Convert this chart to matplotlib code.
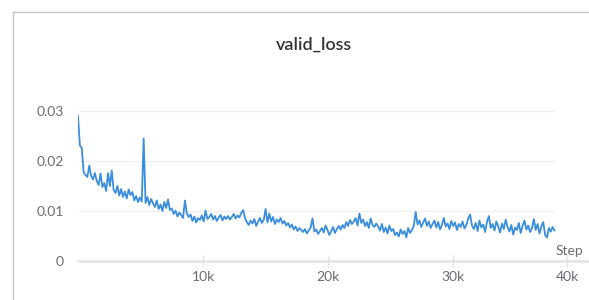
import numpy as np
import matplotlib
matplotlib.use("Agg")
import matplotlib.pyplot as plt
from matplotlib.lines import Line2D

plt.rcParams['font.family'] = ['Lato', 'DejaVu Sans']

# valid_loss logged every 150 steps
step_interval = 150
valid_loss = [
    0.0290, 0.0231, 0.0226, 0.0178, 0.0172, 0.0168, 0.0191, 0.0170, 0.0163, 0.0176,
    0.0160, 0.0152, 0.0175, 0.0148, 0.0156, 0.0140, 0.0176, 0.0150, 0.0181, 0.0142,
    0.0136, 0.0150, 0.0131, 0.0144, 0.0128, 0.0139, 0.0125, 0.0143, 0.0132, 0.0138,
    0.0121, 0.0130, 0.0118, 0.0127, 0.0119, 0.0245, 0.0116, 0.0128, 0.0112, 0.0124,
    0.0115, 0.0108, 0.0121, 0.0104, 0.0113, 0.0100, 0.0118, 0.0106, 0.0123, 0.0102,
    0.0105, 0.0094, 0.0101, 0.0089, 0.0097, 0.0092, 0.0086, 0.0121, 0.0095, 0.0088,
    0.0093, 0.0080, 0.0089, 0.0077, 0.0086, 0.0082, 0.0091, 0.0079, 0.0101, 0.0084,
    0.0088, 0.0094, 0.0083, 0.0090, 0.0080, 0.0087, 0.0092, 0.0081, 0.0089, 0.0084,
    0.0090, 0.0083, 0.0088, 0.0094, 0.0085, 0.0091, 0.0087, 0.0096, 0.0102, 0.0086,
    0.0078, 0.0072, 0.0081, 0.0075, 0.0084, 0.0070, 0.0079, 0.0086, 0.0076, 0.0082,
    0.0104, 0.0077, 0.0095, 0.0079, 0.0088, 0.0074, 0.0083, 0.0078, 0.0086, 0.0075,
    0.0080, 0.0071, 0.0076, 0.0067, 0.0073, 0.0063, 0.0069, 0.0060, 0.0066, 0.0062,
    0.0058, 0.0064, 0.0055, 0.0061, 0.0067, 0.0085, 0.0059, 0.0063, 0.0054, 0.0060,
    0.0066, 0.0057, 0.0071, 0.0062, 0.0052, 0.0060, 0.0068, 0.0056, 0.0064, 0.0070,
    0.0063, 0.0072, 0.0066, 0.0078, 0.0070, 0.0082, 0.0074, 0.0079, 0.0086, 0.0071,
    0.0095, 0.0076, 0.0083, 0.0070, 0.0078, 0.0066, 0.0085, 0.0072, 0.0068, 0.0075,
    0.0069, 0.0061, 0.0074, 0.0058, 0.0067, 0.0055, 0.0071, 0.0060, 0.0064, 0.0052,
    0.0057, 0.0049, 0.0063, 0.0054, 0.0060, 0.0047, 0.0066, 0.0056, 0.0062, 0.0070,
    0.0098, 0.0073, 0.0081, 0.0068, 0.0077, 0.0085, 0.0070, 0.0079, 0.0066, 0.0074,
    0.0081, 0.0067, 0.0078, 0.0063, 0.0072, 0.0086, 0.0069, 0.0075, 0.0064, 0.0080,
    0.0070, 0.0077, 0.0062, 0.0074, 0.0068, 0.0079, 0.0065, 0.0072, 0.0085, 0.0093,
    0.0071, 0.0064, 0.0076, 0.0060, 0.0081, 0.0067, 0.0073, 0.0058, 0.0078, 0.0090,
    0.0066, 0.0074, 0.0061, 0.0079, 0.0069, 0.0057, 0.0075, 0.0064, 0.0083, 0.0068,
    0.0059, 0.0072, 0.0053, 0.0067, 0.0062, 0.0076, 0.0056, 0.0070, 0.0081, 0.0063,
    0.0071, 0.0058, 0.0066, 0.0084, 0.0062, 0.0074, 0.0055, 0.0069, 0.0078, 0.0052,
    0.0047, 0.0066, 0.0059, 0.0068, 0.0061,
]
steps = np.arange(len(valid_loss)) * step_interval

x_ticks = [10000, 20000, 30000, 39100]
x_labels = ['10k', '20k', '30k', '40k']
y_ticks = [0, 0.01, 0.02, 0.03]
y_labels = ['0', '0.01', '0.02', '0.03']

W, H = 589, 300
fig = plt.figure(figsize=(W / 100, H / 100), dpi=100)
ax = fig.add_axes([78 / W, 1 - 261 / H, (567 - 78) / W, (261 - 96) / H])

ax.hlines(y_ticks[1:], 0, steps[-1], color='#f0f0f0', lw=1, zorder=0)
ax.plot(steps, valid_loss, color='#3a8edb', lw=1.3, zorder=3)

ax.set_xlim(0, 39100)
ax.set_ylim(0, 0.033)

for s in ax.spines.values():
    s.set_visible(False)
# baseline runs past the last tick, under the "Step" label
ax.plot([0, (589 - 78) / (567 - 78)], [0, 0], transform=ax.transAxes,
        color='#e3e3e3', lw=1.8, clip_on=False, zorder=1)

ax.set_xticks(x_ticks)
ax.set_xticklabels(x_labels)
ax.set_yticks(y_ticks)
ax.set_yticklabels(y_labels)
ax.tick_params(axis='x', direction='inout', length=9, width=1, color='#e3e3e3',
               labelsize=10, labelcolor='#6b6b76', pad=3)
ax.tick_params(axis='y', length=0, labelsize=10, labelcolor='#6b6b76', pad=10)

fig.text(583 / W, 1 - 251 / H, 'Step', ha='right', va='center',
         fontsize=10, color='#6b6b76')
fig.text(314 / W, 1 - 45 / H, 'valid_loss', ha='center', va='center',
         fontsize=13, fontweight='semibold', color='#333333')

# panel border (top and left edges)
fig.add_artist(Line2D([12.5 / W, 1], [1 - 11.5 / H, 1 - 11.5 / H],
                      transform=fig.transFigure, color='#c6c6c6', lw=1))
fig.add_artist(Line2D([12.5 / W, 12.5 / W], [0, 1 - 11.5 / H],
                      transform=fig.transFigure, color='#c6c6c6', lw=1))

fig.savefig('out.png', dpi=100)
